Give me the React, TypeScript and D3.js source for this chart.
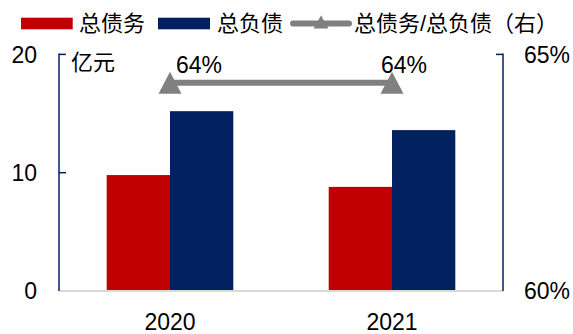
import React from "react";
import * as d3 from "d3";

const years = ["2020", "2021"];
const totalDebt = [9.8, 8.8];
const totalLiab = [15.2, 13.6];
const ratio = [64.4, 64.4];
const leftTicks = [0, 10, 20];
const rightTicks = [60, 65];
const seriesNames = ["总债务", "总负债", "总债务/总负债（右）"];
const unitLabel = "亿元";

const W = 573;
const H = 334;
const FONT = "'Liberation Sans', Arial, 'Noto Sans CJK SC', sans-serif";
const RED = "#C00000";
const NAVY = "#002060";
const GRAY = "#808080";
const NUM = 23;
const LABEL_DX = [6, -11];

export default function App() {
  const left = 59;
  const right = 503;
  const top = 54.4;
  const bottom = 291;

  const x = d3.scaleBand<string>().domain(years).range([left, right]).paddingInner(0).paddingOuter(0);
  const bw = x.bandwidth();
  const barW = 63.3;
  const xs = d3
    .scaleBand<string>()
    .domain(["debt", "liab"])
    .range([bw / 2 - barW, bw / 2 + barW]);
  const y = d3.scaleLinear().domain([0, 20]).range([bottom, top]);
  const y2 = d3.scaleLinear().domain([60, 65]).range([bottom, top]);

  const pts: [number, number][] = years.map((yr, i) => [x(yr)! + bw / 2, y2(ratio[i])]);
  const line = d3.line()(pts) as string;

  const tri = (cx: number, cy: number, w: number, h: number) =>
    `M${cx},${cy - h / 2}L${cx + w / 2},${cy + h / 2}L${cx - w / 2},${cy + h / 2}Z`;

  return (
    <svg
      width={W}
      height={H}
      style={{ position: "fixed", left: 0, top: 0, background: "#fff" }}
      fontFamily={FONT}
    >
      {/* legend */}
      <rect x={21} y={17.7} width={51.7} height={11.6} fill={RED} />
      <text x={79} y={31} fontSize={22} fill="#000">{seriesNames[0]}</text>
      <rect x={158} y={17.7} width={52} height={11.6} fill={NAVY} />
      <text x={217} y={31} fontSize={22} fill="#000">{seriesNames[1]}</text>
      <line x1={293} x2={349} y1={23.5} y2={23.5} stroke={GRAY} strokeWidth={6} strokeLinecap="round" />
      <path d={tri(321, 22, 15, 13)} fill={GRAY} />
      <text x={354} y={31} fontSize={22} fill="#000">{seriesNames[2]}</text>

      {/* bars */}
      {years.map((yr, i) => (
        <g key={yr} transform={`translate(${x(yr)},0)`}>
          <rect x={xs("debt")} y={y(totalDebt[i])} width={xs.bandwidth()} height={bottom - y(totalDebt[i])} fill={RED} />
          <rect x={xs("liab")} y={y(totalLiab[i])} width={xs.bandwidth()} height={bottom - y(totalLiab[i])} fill={NAVY} />
        </g>
      ))}

      {/* baseline */}
      <line x1={left} x2={right} y1={bottom} y2={bottom} stroke="#d9d9d9" strokeWidth={2} />

      {/* left axis */}
      <line x1={left} x2={left} y1={y(20) - 1} y2={bottom} stroke={NAVY} strokeWidth={1.5} />
      {leftTicks.map((t) => (
        <g key={t}>
          {t !== 0 && <line x1={left} x2={left + 7} y1={y(t)} y2={y(t)} stroke={NAVY} strokeWidth={1.5} />}
          <text x={37} y={y(t)} dy="0.36em" fontSize={NUM} textAnchor="end" fill="#000">
            {t}
          </text>
        </g>
      ))}
      <text x={71} y={70} fontSize={22} fill="#000">{unitLabel}</text>

      {/* right axis */}
      <line x1={right} x2={right} y1={y2(65) - 1} y2={bottom} stroke={NAVY} strokeWidth={1.5} />
      {rightTicks.map((t) => (
        <g key={t}>
          {t !== 60 && <line x1={right} x2={right - 7} y1={y2(t)} y2={y2(t)} stroke={NAVY} strokeWidth={1.5} />}
          <text x={524} y={y2(t)} dy="0.36em" fontSize={NUM} textAnchor="start" fill="#000">
            {t}%
          </text>
        </g>
      ))}

      {/* x labels */}
      {years.map((yr) => (
        <text key={yr} x={x(yr)! + bw / 2} y={330} fontSize={NUM} textAnchor="middle" fill="#000">
          {yr}
        </text>
      ))}

      {/* ratio line */}
      <path d={line} stroke={GRAY} strokeWidth={6} fill="none" />
      {pts.map(([px, py], i) => (
        <g key={i}>
          <path d={tri(px, py, 23, 22)} fill={GRAY} />
          <text x={px + LABEL_DX[i]} y={py - 10} fontSize={NUM} fill="#000">
            {Math.round(ratio[i])}%
          </text>
        </g>
      ))}
    </svg>
  );
}
